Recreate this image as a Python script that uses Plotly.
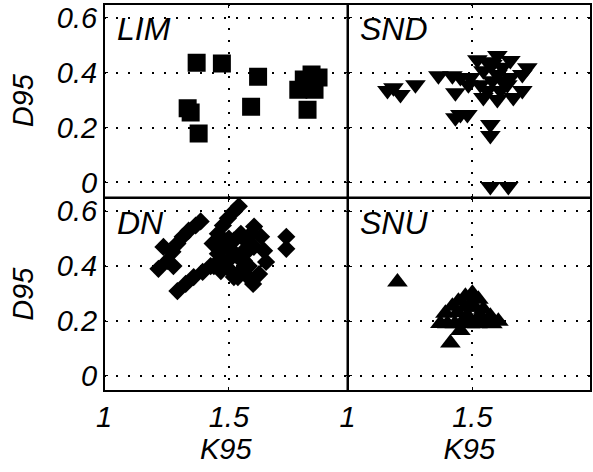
import plotly.graph_objects as go
from plotly.subplots import make_subplots

# LIM (squares)
lim_k95 = [1.371, 1.472, 1.617, 1.335, 1.347, 1.379, 1.589, 1.831, 1.859, 1.778, 1.843, 1.815, 1.80]
lim_d95 = [0.436, 0.433, 0.385, 0.270, 0.255, 0.178, 0.276, 0.393, 0.382, 0.338, 0.338, 0.265, 0.375]

# SND (down triangles)
snd_k95 = [1.160, 1.212, 1.272, 1.184,
           1.364, 1.420, 1.452, 1.492, 1.520, 1.600, 1.652, 1.720, 1.700,
           1.432, 1.484, 1.544, 1.600, 1.652, 1.560, 1.612, 1.544, 1.600, 1.664, 1.700, 1.640, 1.532,
           1.452, 1.480, 1.432,
           1.572, 1.572,
           1.580, 1.560, 1.620, 1.580, 1.620,
           1.572, 1.644]
snd_d95 = [0.335, 0.320, 0.356, 0.345,
           0.389, 0.389, 0.382, 0.382, 0.447, 0.462, 0.444, 0.418, 0.393,
           0.327, 0.356, 0.407, 0.393, 0.382, 0.335, 0.335, 0.309, 0.302, 0.309, 0.335, 0.356, 0.356,
           0.247, 0.247, 0.236,
           0.211, 0.171,
           0.430, 0.440, 0.420, 0.370, 0.370,
           -0.015, -0.015]

# DN (diamonds)
dn_k95 = [1.218, 1.254, 1.274, 1.294, 1.315, 1.339, 1.367, 1.387, 1.238, 1.278,
          1.435, 1.456, 1.476, 1.496, 1.520, 1.540,
          1.294, 1.327, 1.359, 1.395, 1.427, 1.460,
          1.456, 1.496, 1.520, 1.548, 1.496, 1.536, 1.560, 1.508, 1.548, 1.468, 1.577, 1.536, 1.589,
          1.601, 1.629, 1.641, 1.649, 1.621, 1.597,
          1.440, 1.470, 1.520, 1.560, 1.580, 1.600, 1.580, 1.520, 1.570, 1.500, 1.480,
          1.730, 1.730]
dn_d95 = [0.390, 0.419, 0.452, 0.482, 0.507, 0.529, 0.548, 0.563, 0.470, 0.400,
          0.482, 0.518, 0.548, 0.574, 0.599, 0.618,
          0.309, 0.335, 0.360, 0.379, 0.400, 0.419,
          0.445, 0.471, 0.493, 0.518, 0.419, 0.434, 0.456, 0.382, 0.382, 0.382, 0.360, 0.360, 0.518,
          0.544, 0.507, 0.456, 0.415, 0.371, 0.335,
          0.400, 0.420, 0.450, 0.420, 0.400, 0.470, 0.460, 0.360, 0.490, 0.500, 0.480,
          0.507, 0.463]

# SNU (up triangles)
snu_k95 = [1.20,
           1.372, 1.392, 1.42, 1.444, 1.472, 1.50, 1.524, 1.544, 1.572, 1.604,
           1.40, 1.43, 1.46, 1.49, 1.52, 1.55, 1.58,
           1.44, 1.47, 1.49, 1.51, 1.48, 1.53,
           1.412, 1.452]
snu_d95 = [0.342,
           0.191, 0.228, 0.254, 0.272, 0.290, 0.301, 0.279, 0.243, 0.217, 0.199,
           0.190, 0.190, 0.195, 0.190, 0.190, 0.195, 0.190,
           0.230, 0.250, 0.260, 0.250, 0.220, 0.220,
           0.120, 0.165]

panel_names = ["LIM", "SND", "DN", "SNU"]
x_ticks = [1, 1.5]
x_tick_text = ["1", "1.5"]
y_ticks = [0, 0.2, 0.4, 0.6]
y_tick_text = ["0", "0.2", "0.4", "0.6"]

FONT = "Liberation Sans, Arial, sans-serif"
label_font = dict(family=FONT, size=29, color="black", style="italic")

fig = make_subplots(rows=2, cols=2, horizontal_spacing=0, vertical_spacing=0)

series = [
    (lim_k95, lim_d95, "square", 18, 1, 1),
    (snd_k95, snd_d95, "triangle-down", 18, 1, 2),
    (dn_k95, dn_d95, "diamond", 14, 2, 1),
    (snu_k95, snu_d95, "triangle-up", 18, 2, 2),
]
for xs, ys, sym, size, r, c in series:
    fig.add_trace(
        go.Scatter(x=xs, y=ys, mode="markers",
                   marker=dict(symbol=sym, size=size, color="black", line=dict(width=0)),
                   showlegend=False, cliponaxis=True),
        row=r, col=c,
    )

axis_common = dict(
    showline=True, linecolor="black", linewidth=1, mirror="ticks",
    ticks="inside", ticklen=4, tickcolor="black", tickwidth=1,
    showgrid=True, gridcolor="black", gridwidth=1.5, griddash="2px,10px",
    zeroline=False,
    tickfont=label_font,
)

for r in (1, 2):
    for c in (1, 2):
        fig.update_xaxes(range=[1, 1.975], tickvals=x_ticks, ticktext=x_tick_text,
                         showticklabels=(r == 2),
                         title=dict(text="K95" if r == 2 else "", standoff=0, font=label_font),
                         **axis_common, row=r, col=c)
        fig.update_yaxes(range=[-0.055, 0.65], tickvals=y_ticks, ticktext=y_tick_text,
                         showticklabels=(c == 1),
                         title=dict(text="D95" if c == 1 else "", standoff=14, font=label_font),
                         **axis_common, row=r, col=c)

# heavier frame and panel dividers for the 2x2 block
frame = dict(color="black", width=2)
fig.add_shape(type="rect", xref="paper", yref="paper", x0=0, x1=1, y0=0, y1=1,
              line=frame, fillcolor="rgba(0,0,0,0)", layer="above")
fig.add_shape(type="line", xref="paper", yref="paper", x0=0.5, x1=0.5, y0=0, y1=1,
              line=frame, layer="above")
fig.add_shape(type="line", xref="paper", yref="paper", x0=0, x1=1, y0=0.5, y1=0.5,
              line=frame, layer="above")

# panel labels in the upper-left corner of each panel
axis_ids = [("x", "y"), ("x2", "y2"), ("x3", "y3"), ("x4", "y4")]
for name, (xa, ya) in zip(panel_names, axis_ids):
    fig.add_annotation(text=name, xref=f"{xa} domain", yref=f"{ya} domain",
                       x=0.045, y=0.87, xanchor="left", yanchor="middle",
                       showarrow=False,
                       font=dict(family=FONT, size=32, color="black", style="italic"))

fig.update_layout(
    width=593, height=472,
    margin=dict(l=104, r=2, t=4, b=81),
    paper_bgcolor="white", plot_bgcolor="white",
)

fig.write_html("out.html")
